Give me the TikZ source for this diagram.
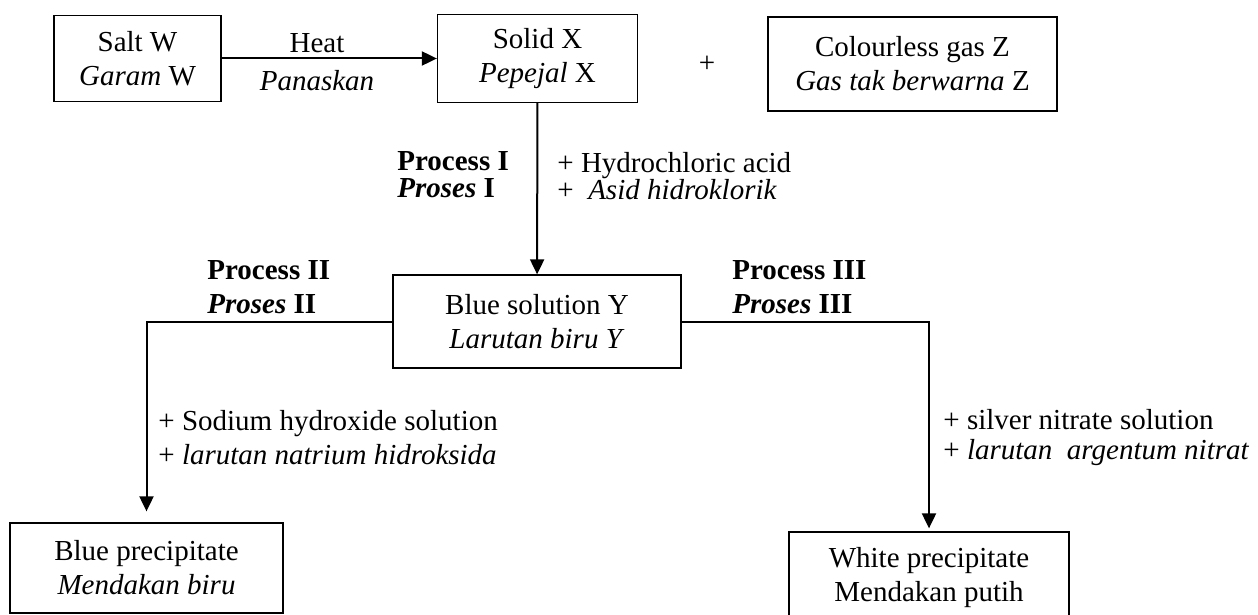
\documentclass[tikz,border=0pt]{standalone}
\usepackage{fontspec}
\setmainfont{Liberation Serif}
\usetikzlibrary{arrows.meta, positioning}

\begin{document}
\begin{tikzpicture}[
  x=0.5pt, y=-0.5pt,
  font=\fontsize{14.5}{17}\selectfont,
  box/.style={draw, line width=0.65pt, inner sep=0pt, align=center},
  lbl/.style={inner sep=0pt, align=left, anchor=base west},
  arr/.style={-{Triangle[length=7.5pt, width=7pt]}, line width=1pt}
]
  \useasboundingbox (0,0) rectangle (1258,615);
  \clip (0,0) rectangle (1258,615);

  % boxes
  \node[box, minimum width=83.5pt, minimum height=43pt] (salt) at (137.5,58.5)
    {Salt W\\\textit{Garam} W};
  \node[box, minimum width=100pt, minimum height=44pt] (solid) at (537.5,58.5)
    {Solid X\\\textit{Pepejal} X};
  \node[box, minimum width=144.5pt, minimum height=47pt] (gas) at (912.5,64)
    {Colourless gas Z\\\textit{Gas tak berwarna} Z};
  \node[box, minimum width=144pt, minimum height=46.5pt] (bsol) at (537,321.5)
    {Blue solution Y\\\textit{Larutan biru Y}};
  \node[box, minimum width=136.5pt, minimum height=45pt] (bppt) at (146.5,568)
    {Blue precipitate\\\textit{Mendakan biru}};
  \node[box, minimum width=140pt, minimum height=45.5pt] (wppt) at (929,577.5)
    {White precipitate\\Mendakan putih};

  % labels (base = last line)
  \node[lbl, anchor=base] (plus) at (707,73) {+};
  \node[lbl, anchor=base] (heat) at (317,53) {Heat};
  \node[lbl, anchor=base] (panas) at (317,91) {\textit{Panaskan}};
  \node[lbl] (proc1) at (397,198)
    {\textbf{Process I}\\[-3.5pt]\textbf{\textit{Proses} I}};
  \node[lbl] (hcl) at (557,199)
    {+ Hydrochloric acid\\[-3.5pt]+\ \ \textit{Asid hidroklorik}};
  \node[lbl] (proc2) at (207,313)
    {\textbf{Process II}\\\textbf{\textit{Proses} II}};
  \node[lbl] (proc3) at (732,313)
    {\textbf{Process III}\\\textbf{\textit{Proses} III}};
  \node[lbl] (naoh) at (158,464)
    {+ Sodium hydroxide solution\\+ \textit{larutan natrium hidroksida}};
  \node[lbl] (agno) at (943,459)
    {+ silver nitrate solution\\[-2pt]+ \textit{larutan\ \ argentum nitrat}};

  % connectors
  \draw[arr] (salt) -- (solid);
  \draw[arr] (solid) -- (bsol);
  \draw[arr, shorten >=5.5pt] (bsol.west) -| (bppt.north);
  \draw[arr, shorten >=1.5pt] (bsol.east) -| (wppt.north);
\end{tikzpicture}
\end{document}
